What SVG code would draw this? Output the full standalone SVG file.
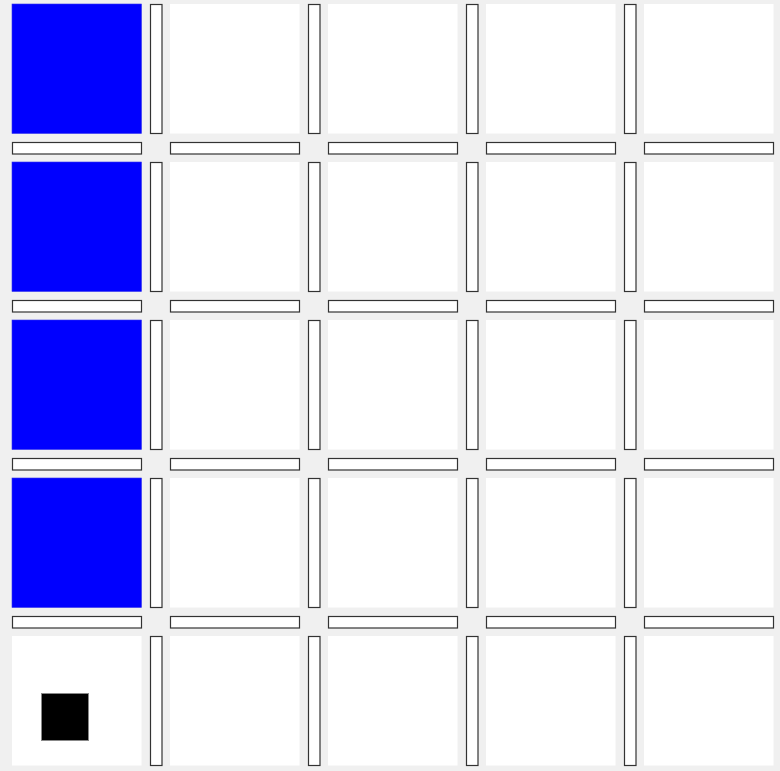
<svg xmlns="http://www.w3.org/2000/svg" xmlns:xlink="http://www.w3.org/1999/xlink" width="780" height="771" viewBox="0 0 780 771">
<style>
.cell{fill:#ffffff;stroke:none}
.blue{fill:#0000ff;stroke:#3333ee;stroke-width:0.6}
.wall{fill:#ffffff;stroke:#333333;stroke-width:1.2}
.agent{fill:#000000;stroke:#888888;stroke-width:1}
</style>
<defs>
<rect id="c" width="129.5" height="129.5"/>
<rect id="v" width="11.5" height="129"/>
<rect id="h" width="129" height="11.5"/>
</defs>
<rect width="780" height="771" fill="#f0f0f0"/>
<g id="cells">
<use href="#c" class="blue" x="12" y="4"/><use href="#c" class="cell" x="170" y="4"/><use href="#c" class="cell" x="328" y="4"/><use href="#c" class="cell" x="486" y="4"/><use href="#c" class="cell" x="644" y="4"/>
<use href="#c" class="blue" x="12" y="162"/><use href="#c" class="cell" x="170" y="162"/><use href="#c" class="cell" x="328" y="162"/><use href="#c" class="cell" x="486" y="162"/><use href="#c" class="cell" x="644" y="162"/>
<use href="#c" class="blue" x="12" y="320"/><use href="#c" class="cell" x="170" y="320"/><use href="#c" class="cell" x="328" y="320"/><use href="#c" class="cell" x="486" y="320"/><use href="#c" class="cell" x="644" y="320"/>
<use href="#c" class="blue" x="12" y="478"/><use href="#c" class="cell" x="170" y="478"/><use href="#c" class="cell" x="328" y="478"/><use href="#c" class="cell" x="486" y="478"/><use href="#c" class="cell" x="644" y="478"/>
<use href="#c" class="cell" x="12" y="636"/><use href="#c" class="cell" x="170" y="636"/><use href="#c" class="cell" x="328" y="636"/><use href="#c" class="cell" x="486" y="636"/><use href="#c" class="cell" x="644" y="636"/>
</g>
<g id="vwalls">
<use href="#v" class="wall" x="150.5" y="4.5"/><use href="#v" class="wall" x="308.5" y="4.5"/><use href="#v" class="wall" x="466.5" y="4.5"/><use href="#v" class="wall" x="624.5" y="4.5"/>
<use href="#v" class="wall" x="150.5" y="162.5"/><use href="#v" class="wall" x="308.5" y="162.5"/><use href="#v" class="wall" x="466.5" y="162.5"/><use href="#v" class="wall" x="624.5" y="162.5"/>
<use href="#v" class="wall" x="150.5" y="320.5"/><use href="#v" class="wall" x="308.5" y="320.5"/><use href="#v" class="wall" x="466.5" y="320.5"/><use href="#v" class="wall" x="624.5" y="320.5"/>
<use href="#v" class="wall" x="150.5" y="478.5"/><use href="#v" class="wall" x="308.5" y="478.5"/><use href="#v" class="wall" x="466.5" y="478.5"/><use href="#v" class="wall" x="624.5" y="478.5"/>
<use href="#v" class="wall" x="150.5" y="636.5"/><use href="#v" class="wall" x="308.5" y="636.5"/><use href="#v" class="wall" x="466.5" y="636.5"/><use href="#v" class="wall" x="624.5" y="636.5"/>
</g>
<g id="hwalls">
<use href="#h" class="wall" x="12.5" y="142.5"/><use href="#h" class="wall" x="170.5" y="142.5"/><use href="#h" class="wall" x="328.5" y="142.5"/><use href="#h" class="wall" x="486.5" y="142.5"/><use href="#h" class="wall" x="644.5" y="142.5"/>
<use href="#h" class="wall" x="12.5" y="300.5"/><use href="#h" class="wall" x="170.5" y="300.5"/><use href="#h" class="wall" x="328.5" y="300.5"/><use href="#h" class="wall" x="486.5" y="300.5"/><use href="#h" class="wall" x="644.5" y="300.5"/>
<use href="#h" class="wall" x="12.5" y="458.5"/><use href="#h" class="wall" x="170.5" y="458.5"/><use href="#h" class="wall" x="328.5" y="458.5"/><use href="#h" class="wall" x="486.5" y="458.5"/><use href="#h" class="wall" x="644.5" y="458.5"/>
<use href="#h" class="wall" x="12.5" y="616.5"/><use href="#h" class="wall" x="170.5" y="616.5"/><use href="#h" class="wall" x="328.5" y="616.5"/><use href="#h" class="wall" x="486.5" y="616.5"/><use href="#h" class="wall" x="644.5" y="616.5"/>
</g>
<g id="agent">
<rect class="agent" x="41.5" y="693.5" width="47" height="47"/>
</g>
</svg>
